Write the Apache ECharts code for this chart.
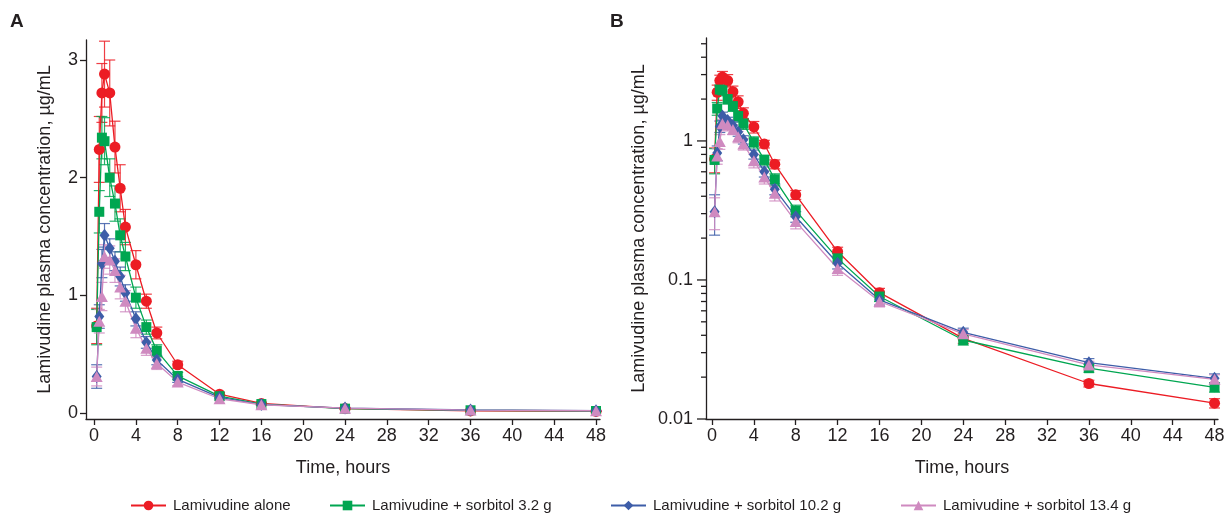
<!DOCTYPE html>
<html>
<head>
<meta charset="utf-8">
<script src="https://cdn.jsdelivr.net/npm/echarts@6/dist/echarts.min.js"></script>
<style>
  html, body { margin: 0; padding: 0; background: #fff; }
  #chart { width: 1226px; height: 515px; }
</style>
</head>
<body>
<div id="chart"></div>
<script>
  // sampling times (h)
  const hours = [0.25, 0.5, 0.75, 1, 1.5, 2, 2.5, 3, 4, 5, 6, 8, 12, 16, 24, 36, 48]

  // mean plasma concentration, µg/mL
  const alone = [0.74, 2.24, 2.72, 2.88, 2.72, 2.26, 1.91, 1.58, 1.26, 0.95, 0.68, 0.41, 0.16, 0.081, 0.038, 0.018, 0.013]
  const sorb32 = [0.73, 1.71, 2.34, 2.31, 2.0, 1.78, 1.51, 1.33, 0.98, 0.73, 0.53, 0.315, 0.143, 0.076, 0.037, 0.0232, 0.0169]
  const sorb102 = [0.31, 0.82, 1.27, 1.51, 1.40, 1.29, 1.16, 1.02, 0.80, 0.60, 0.45, 0.285, 0.132, 0.072, 0.042, 0.0254, 0.0196]
  const sorb134 = [0.31, 0.78, 0.99, 1.33, 1.30, 1.21, 1.07, 0.95, 0.72, 0.55, 0.42, 0.263, 0.121, 0.070, 0.041, 0.0245, 0.0193]

  // error bar half-widths
  const aloneErr = [0.15, 0.28, 0.25, 0.28, 0.28, 0.22, 0.2, 0.15, 0.12, 0.06, 0.05, 0.03, 0.012, 0.006, 0.003, 0.001, 0.001]
  const sorb32Err = [0.15, 0.18, 0.18, 0.2, 0.16, 0.15, 0.14, 0.12, 0.09, 0.06, 0.05, 0.03, 0.012, 0.006, 0.003, 0.0015, 0.0013]
  const sorb102Err = [0.1, 0.1, 0.12, 0.1, 0.08, 0.08, 0.08, 0.07, 0.06, 0.05, 0.04, 0.025, 0.012, 0.006, 0.003, 0.0018, 0.0015]
  const sorb134Err = [0.08, 0.1, 0.12, 0.1, 0.12, 0.1, 0.1, 0.09, 0.08, 0.06, 0.05, 0.03, 0.013, 0.006, 0.003, 0.0015, 0.0015]

  // axis ticks
  const xTicks = [0, 4, 8, 12, 16, 20, 24, 28, 32, 36, 40, 44, 48]
  const yTicksA = [0, 1, 2, 3]
  const logMajor = [0.01, 0.1, 1]
  const logMinor = [0.02, 0.03, 0.04, 0.05, 0.06, 0.07, 0.08, 0.09, 0.2, 0.3, 0.4, 0.5, 0.6, 0.7, 0.8, 0.9, 2, 3, 4, 5]

  const INK = '#231f20'
  const FONT = 'Liberation Sans, Arial, Helvetica, sans-serif'

  const groups = [
    { name: 'Lamivudine alone', color: '#ec1c24', symbol: 'circle', size: 11, vals: alone, err: aloneErr, legendX: 130 },
    { name: 'Lamivudine + sorbitol 3.2 g', color: '#00a651', symbol: 'rect', size: 10, vals: sorb32, err: sorb32Err, legendX: 329 },
    { name: 'Lamivudine + sorbitol 10.2 g', color: '#3d5da8', symbol: 'diamond', size: [10, 13], vals: sorb102, err: sorb102Err, legendX: 610 },
    { name: 'Lamivudine + sorbitol 13.4 g', color: '#cf8ac0', symbol: 'triangle', size: [12, 11], vals: sorb134, err: sorb134Err, legendX: 900 }
  ]

  const errItem = (params, api) => {
    let x = api.value(0)
    let lo = api.coord([x, api.value(1)])
    let hi = api.coord([x, api.value(2)])
    let w = 5.5
    let style = { stroke: api.visual('color'), lineWidth: 1.2, opacity: 0.85 }
    return {
      type: 'group',
      children: [
        { type: 'line', shape: { x1: lo[0], y1: lo[1], x2: hi[0], y2: hi[1] }, style: style },
        { type: 'line', shape: { x1: lo[0] - w, y1: lo[1], x2: lo[0] + w, y2: lo[1] }, style: style },
        { type: 'line', shape: { x1: hi[0] - w, y1: hi[1], x2: hi[0] + w, y2: hi[1] }, style: style }
      ]
    }
  }

  const logTickItem = (params, api) => {
    let p = api.coord([-0.57, api.value(0)])
    let len = api.value(1)
    return {
      type: 'line',
      shape: { x1: p[0] - len, y1: p[1], x2: p[0], y2: p[1] },
      style: { stroke: INK, lineWidth: 1.3 }
    }
  }

  const axisText = { fontSize: 18, color: INK, fontFamily: FONT }

  const makeX = (idx, min, max) => ({
    gridIndex: idx,
    type: 'value',
    min: min,
    max: max,
    name: 'Time, hours',
    nameLocation: 'middle',
    nameGap: 40,
    nameTextStyle: axisText,
    axisLine: { onZero: false, lineStyle: { color: INK, width: 1.3 } },
    axisTick: { customValues: xTicks, length: 6, lineStyle: { color: INK, width: 1.3 } },
    axisLabel: Object.assign({ customValues: xTicks, margin: 8 }, axisText),
    splitLine: { show: false }
  })

  let series = []
  groups.forEach(g => {
    [0, 1].forEach(idx => {
      series.push({
        name: g.name,
        type: 'line',
        xAxisIndex: idx,
        yAxisIndex: idx,
        symbol: g.symbol,
        symbolSize: g.size,
        showAllSymbol: true,
        color: g.color,
        lineStyle: { width: 1.3, color: g.color },
        itemStyle: { color: g.color },
        z: 3,
        data: hours.map((t, i) => [t, g.vals[i]])
      })
      series.push({
        name: g.name + ' error',
        type: 'custom',
        xAxisIndex: idx,
        yAxisIndex: idx,
        renderItem: errItem,
        itemStyle: { color: g.color },
        silent: true,
        z: 2,
        data: hours.map((t, i) => [t, Math.max(g.vals[i] - g.err[i], idx ? 0.002 : 0), g.vals[i] + g.err[i]])
      })
    })
  })

  series.push({
    name: 'logticks',
    type: 'custom',
    xAxisIndex: 1,
    yAxisIndex: 1,
    renderItem: logTickItem,
    silent: true,
    clip: false,
    data: logMajor.map(v => [v, 9]).concat(logMinor.map(v => [v, 5]))
  })

  const chart = echarts.init(document.getElementById('chart'), null, { renderer: 'canvas' })
  chart.setOption({
    animation: false,
    backgroundColor: '#fff',
    textStyle: { fontFamily: FONT },
    graphic: [
      { type: 'text', left: 10, top: 12, style: { text: 'A', font: 'bold 19px ' + FONT, fill: INK } },
      { type: 'text', left: 610, top: 12, style: { text: 'B', font: 'bold 19px ' + FONT, fill: INK } }
    ],
    legend: groups.map(g => ({
      top: 498,
      left: g.legendX,
      padding: 0,
      itemWidth: 35,
      itemHeight: 12,
      textStyle: { fontSize: 15, color: INK, fontFamily: FONT, padding: [0, 0, 0, 2] },
      data: [g.name]
    })),
    grid: [
      { left: 86, top: 40, width: 514, height: 379, outerBoundsMode: 'none' },
      { left: 706, top: 38, width: 512, height: 381, outerBoundsMode: 'none' }
    ],
    xAxis: [makeX(0, -0.77, 48.38), makeX(1, -0.57, 48.33)],
    yAxis: [
      {
        gridIndex: 0,
        type: 'value',
        min: -0.051,
        max: 3.17,
        name: 'Lamivudine plasma concentration, µg/mL',
        nameLocation: 'middle',
        nameGap: 32,
        nameTextStyle: axisText,
        axisLine: { onZero: false, lineStyle: { color: INK, width: 1.3 } },
        axisTick: { customValues: yTicksA, length: 6, lineStyle: { color: INK, width: 1.3 } },
        axisLabel: Object.assign({ customValues: yTicksA, margin: 8 }, axisText),
        splitLine: { show: false }
      },
      {
        gridIndex: 1,
        type: 'log',
        logBase: 10,
        min: 0.01,
        max: 5.5,
        name: 'Lamivudine plasma concentration, µg/mL',
        nameLocation: 'middle',
        nameGap: 58,
        nameTextStyle: axisText,
        axisLine: { onZero: false, lineStyle: { color: INK, width: 1.3 } },
        axisTick: { show: false },
        axisLabel: Object.assign({
          showMaxLabel: false,
          margin: 13,
          formatter: v => String(parseFloat(Number(v).toPrecision(3)))
        }, axisText),
        splitLine: { show: false }
      }
    ],
    series: series
  })
</script>
</body>
</html>
